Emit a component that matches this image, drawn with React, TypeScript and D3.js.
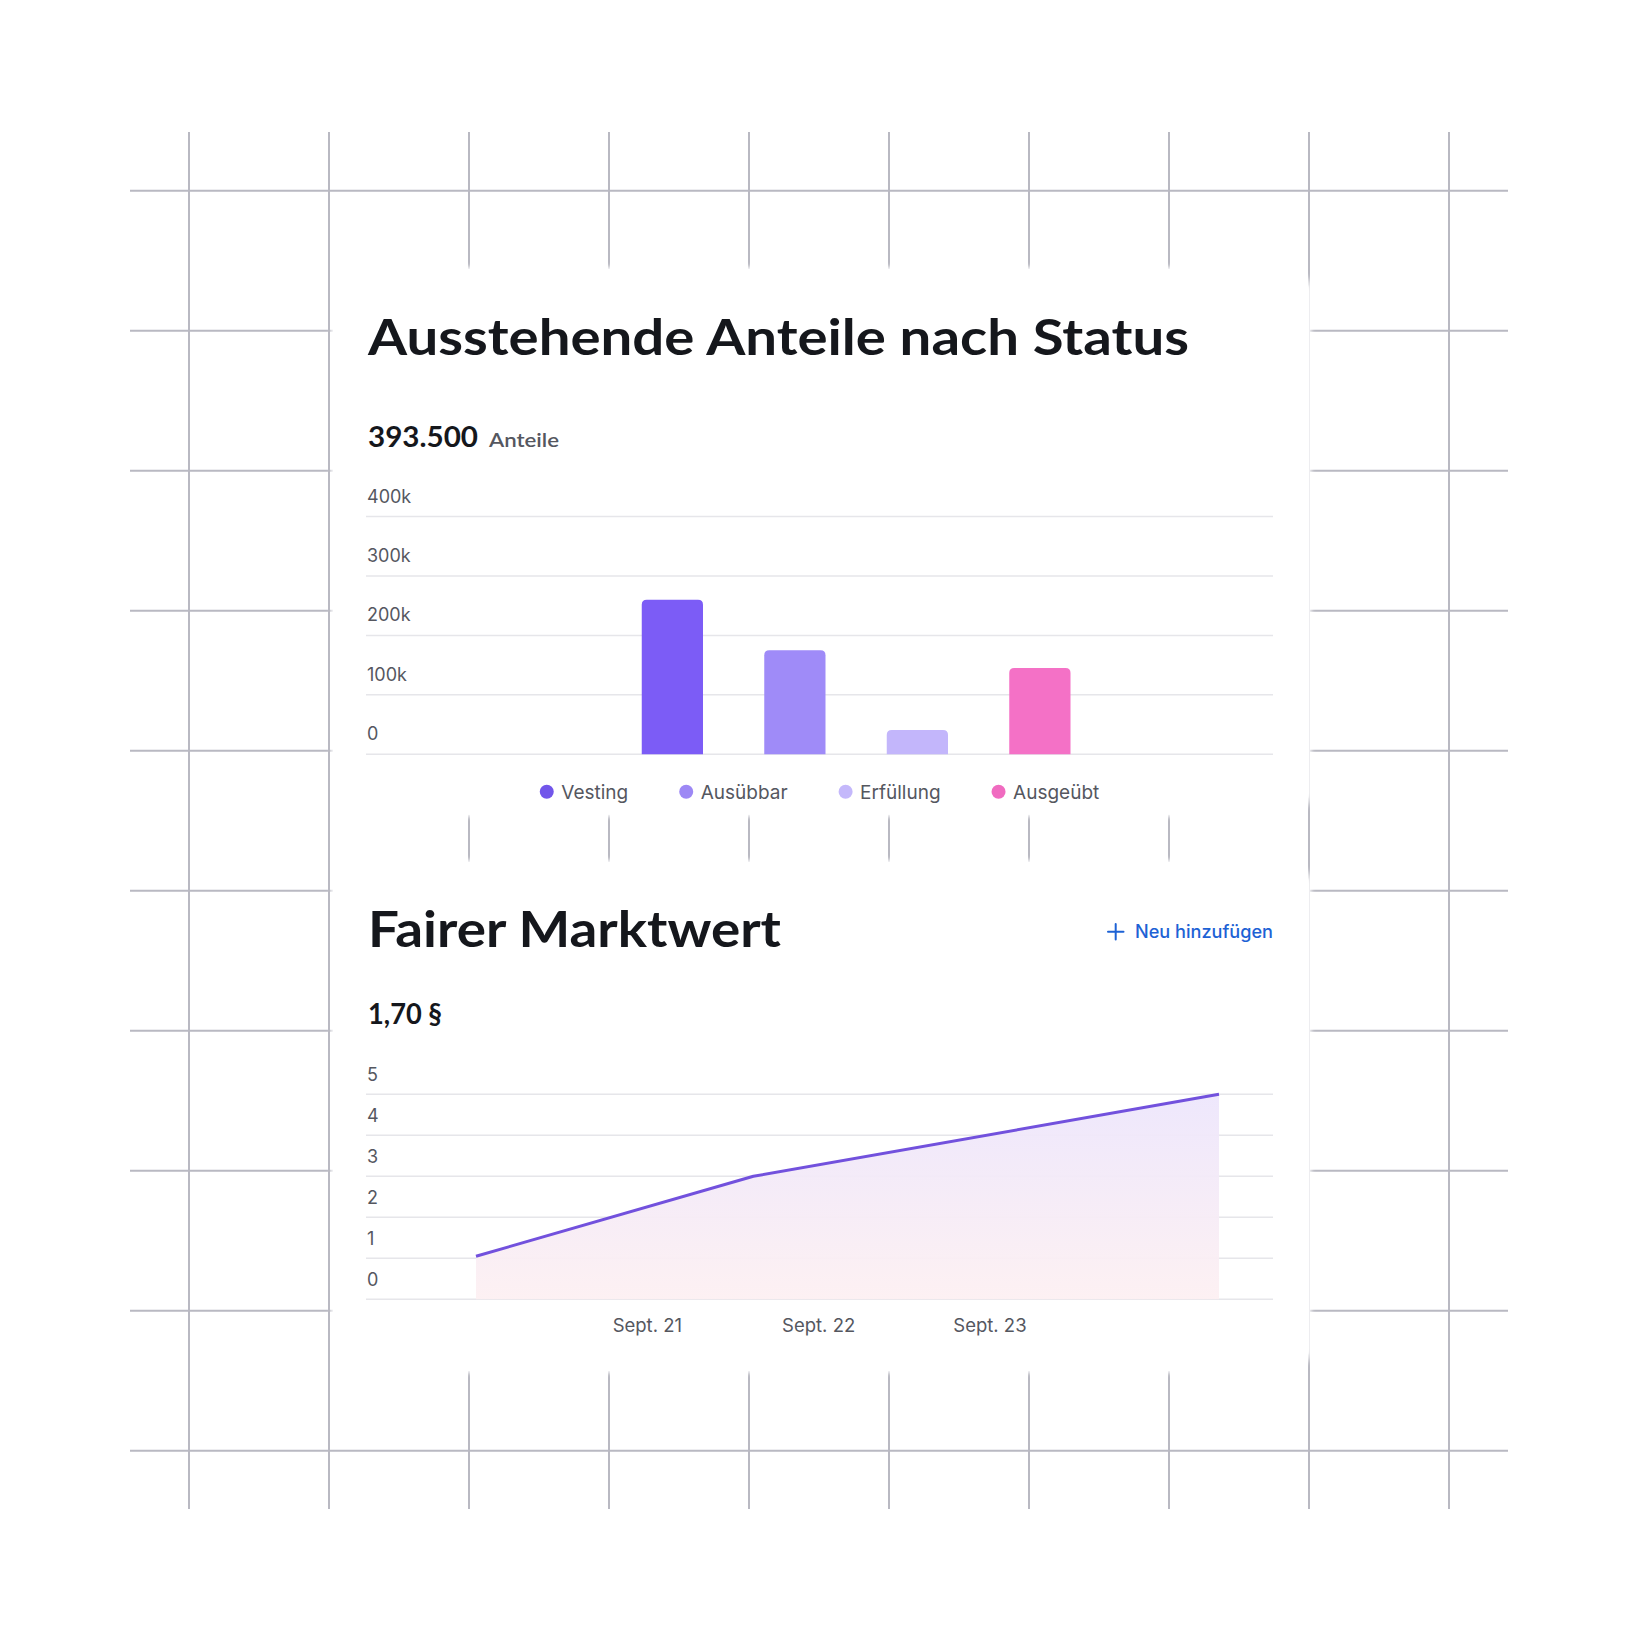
import React from "react";
import * as d3 from "d3";

// ---------- data ----------
const barCategories = ["Vesting", "Ausübbar", "Erfüllung", "Ausgeübt"];
const barValues = [260000, 175000, 41000, 145000];
const barTicks = [0, 100000, 200000, 300000, 400000];
const barTickLabels = ["0", "100k", "200k", "300k", "400k"];

const lineDates = ["2020-09-01", "2022-04-15", "2025-01-01"];
const lineValues = [1.05, 3.0, 5.0];
const lineTicks = [0, 1, 2, 3, 4, 5];
const lineTickLabels = ["0", "1", "2", "3", "4", "5"];
const xTickDates = ["2021-09-01", "2022-09-01", "2023-09-01"];
const xTickLabels = ["Sept. 21", "Sept. 22", "Sept. 23"];

const title1 = "Ausstehende Anteile nach Status";
const total1 = "393.500";
const unit1 = "Anteile";
const title2 = "Fairer Marktwert";
const total2 = "1,70 §";
const actionLabel = "Neu hinzufügen";

// ---------- styles ----------
const barColors = ["#7c5cf6", "#9f8bf8", "#c3b6fb", "#f471c6"];
const dotColors = ["#7256ea", "#9d88f5", "#c4b8fb", "#f06bc0"];
const gridBg = "#b9b9c2";
const gridLight = "#e6e6ea";
const textDark = "#15171c";
const textGray = "#55575f";
const lineColor = "#7251dd";
const blue = "#1d62d5";
const titleFont = "Lato, 'Noto Sans', sans-serif";
const bodyFont = "Inter, 'Noto Sans', sans-serif";

const parse = d3.timeParse("%Y-%m-%d");

function measure(text: string, font: string) {
  const c = document.createElement("canvas").getContext("2d");
  if (!c) return text.length * 9;
  c.font = font;
  return c.measureText(text).width;
}

function roundedTop(x: number, y: number, w: number, h: number, r: number) {
  const rr = Math.min(r, h, w / 2);
  return `M${x},${y + h}V${y + rr}Q${x},${y} ${x + rr},${y}H${x + w - rr}Q${x + w},${y} ${x + w},${y + rr}V${y + h}Z`;
}

export default function App() {
  const W = 1640;
  const H = 1640;

  // background grid
  const gridX = d3.range(10).map((i) => 189 + 140 * i);
  const gridY = d3.range(10).map((i) => 190.7 + 140 * i);

  // plot area horizontal extent
  const plotL = 366;
  const plotR = 1273;

  // bar chart scales
  const yBar = d3.scaleLinear().domain([0, 400000]).range([754.3, 516.5]);
  const xBar = d3.scaleBand<string>().domain(barCategories).range([580.5, 1131.75]).padding(0.5);

  // line chart scales
  const dates = lineDates.map((d) => parse(d) as Date);
  const xLine = d3.scaleTime().domain([dates[0], dates[dates.length - 1]]).range([476, 1219]);
  const yLine = d3.scaleLinear().domain([0, 5]).range([1299.3, 1094.3]);
  const pts: [Date, number][] = dates.map((d, i) => [d, lineValues[i]]);
  const lineGen = d3.line<[Date, number]>().x((d) => xLine(d[0])).y((d) => yLine(d[1]));
  const areaGen = d3
    .area<[Date, number]>()
    .x((d) => xLine(d[0]))
    .y0(yLine(0))
    .y1((d) => yLine(d[1]));

  // legend layout
  const legendSize = 19;
  const legendFont = `${legendSize}px Inter`;
  const dotR = 7;
  const dotGap = 7.5;
  const itemGap = 51;
  const widths = barCategories.map((c) => measure(c, legendFont));
  const itemW = widths.map((w) => dotR * 2 + dotGap + w);
  const totalLegend = d3.sum(itemW) + itemGap * (barCategories.length - 1);
  let lx = (plotL + plotR) / 2 - totalLegend / 2;
  const legendPos = itemW.map((w) => {
    const p = lx;
    lx += w + itemGap;
    return p;
  });

  return (
    <svg
      width={W}
      height={H}
      viewBox={`0 0 ${W} ${H}`}
      style={{ position: "absolute", left: 0, top: 0, background: "#ffffff" }}
    >
      <defs>
        <linearGradient id="areaGrad" x1="0" y1="0" x2="0" y2="1">
          <stop offset="0%" stopColor="#ede6fc" stopOpacity={0.95} />
          <stop offset="100%" stopColor="#fdf0f2" stopOpacity={0.95} />
        </linearGradient>
        <filter id="soft" x="-5%" y="-5%" width="110%" height="110%">
          <feGaussianBlur stdDeviation="2" />
        </filter>
      </defs>
      <rect x={0} y={0} width={W} height={H} fill="#ffffff" />

      {/* background grid */}
      <g stroke={gridBg} strokeWidth={2}>
        {gridX.map((x) => (
          <line key={"vx" + x} x1={x} x2={x} y1={132} y2={1509} />
        ))}
        {gridY.map((y) => (
          <line key={"hy" + y} x1={130} x2={1508} y1={y} y2={y} />
        ))}
      </g>

      {/* cards */}
      <g fill="#ffffff">
        <rect x={331} y={267} width={980} height={549.7} rx={24} filter="url(#soft)" />
        <rect x={333} y={269} width={976} height={545.7} rx={22} />
        <rect x={331} y={860} width={980} height={513} rx={24} filter="url(#soft)" />
        <rect x={333} y={862} width={976} height={509} rx={22} />
      </g>
      <line x1={329} x2={329} y1={132} y2={1509} stroke={gridBg} strokeWidth={2} />

      {/* ---------- card 1 ---------- */}
      <text x={368} y={355} fontFamily={titleFont} fontWeight={700} fontSize={50} fill={textDark} textLength={821} lengthAdjust="spacingAndGlyphs">
        {title1}
      </text>
      <text x={368} y={446.7} fontFamily={titleFont} fontWeight={700} fontSize={28} fill={textDark} textLength={110} lengthAdjust="spacingAndGlyphs">
        {total1}
      </text>
      <text x={489} y={447} fontFamily={titleFont} fontWeight={600} fontSize={20} fill={textGray} textLength={70} lengthAdjust="spacingAndGlyphs">
        {unit1}
      </text>

      {/* bar gridlines + labels */}
      <g>
        {barTicks.map((t, i) => (
          <g key={"bt" + t}>
            <line x1={plotL} x2={plotR} y1={yBar(t)} y2={yBar(t)} stroke={gridLight} strokeWidth={1.5} />
            <text x={367} y={yBar(t) - 14} fontFamily={bodyFont} fontSize={18} fill={textGray}>
              {barTickLabels[i]}
            </text>
          </g>
        ))}
      </g>
      {/* bars */}
      <g>
        {barCategories.map((c, i) => {
          const x = xBar(c) as number;
          const y = yBar(barValues[i]);
          return (
            <path key={c} d={roundedTop(x, y, xBar.bandwidth(), yBar(0) - y, 5)} fill={barColors[i]} />
          );
        })}
      </g>
      {/* legend */}
      <g>
        {barCategories.map((c, i) => (
          <g key={"lg" + c}>
            <circle cx={legendPos[i] + dotR} cy={791.7} r={dotR} fill={dotColors[i]} />
            <text x={legendPos[i] + dotR * 2 + dotGap} y={798.5} fontFamily={bodyFont} fontSize={legendSize} fill={textGray}>
              {c}
            </text>
          </g>
        ))}
      </g>

      {/* ---------- card 2 ---------- */}
      <text x={368} y={946.7} fontFamily={titleFont} fontWeight={700} fontSize={50} fill={textDark} textLength={413} lengthAdjust="spacingAndGlyphs">
        {title2}
      </text>
      <text x={368} y={1024} fontFamily={titleFont} fontWeight={700} fontSize={28} fill={textDark} textLength={74} lengthAdjust="spacingAndGlyphs">
        {total2}
      </text>
      {/* action */}
      <g stroke={blue} strokeWidth={2} strokeLinecap="round">
        <line x1={1108} x2={1123.5} y1={931.7} y2={931.7} />
        <line x1={1115.7} x2={1115.7} y1={924} y2={939.5} />
      </g>
      <text x={1135} y={938.3} fontFamily={bodyFont} fontWeight={500} fontSize={18} fill={blue} textLength={138} lengthAdjust="spacingAndGlyphs">
        {actionLabel}
      </text>

      {/* line gridlines + labels */}
      <g>
        {lineTicks.map((t, i) => (
          <g key={"lt" + t}>
            <line x1={plotL} x2={plotR} y1={yLine(t)} y2={yLine(t)} stroke={gridLight} strokeWidth={1.5} />
            <text x={367} y={yLine(t) - 13.6} fontFamily={bodyFont} fontSize={18} fill={textGray}>
              {lineTickLabels[i]}
            </text>
          </g>
        ))}
      </g>
      <path d={areaGen(pts) || ""} fill="url(#areaGrad)" />
      <path d={lineGen(pts) || ""} fill="none" stroke={lineColor} strokeWidth={3} strokeLinejoin="round" />
      {/* x ticks */}
      <g>
        {xTickDates.map((d, i) => (
          <text
            key={"xt" + d}
            x={xLine(parse(d) as Date)}
            y={1331.7}
            textAnchor="middle"
            fontFamily={bodyFont}
            fontSize={18.5}
            fill={textGray}
          >
            {xTickLabels[i]}
          </text>
        ))}
      </g>
    </svg>
  );
}
